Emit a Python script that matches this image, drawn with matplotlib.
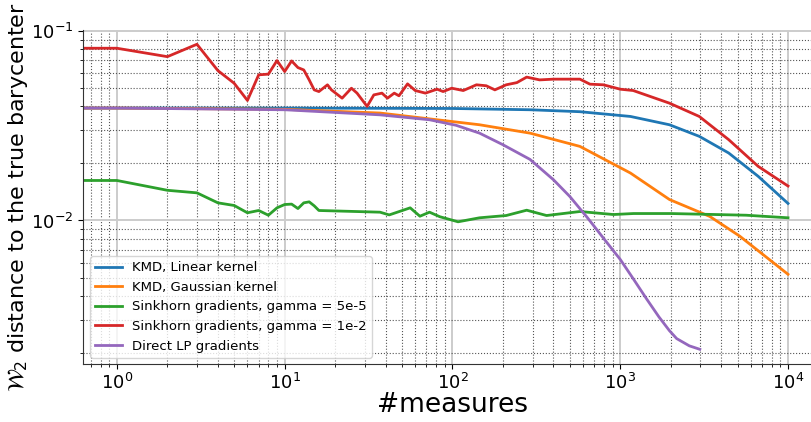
import matplotlib
matplotlib.use("Agg")
import matplotlib.pyplot as plt

# hodnoty (x = pocet mer, y = W2 vzdalenost)
lin_x = [0, 1, 10, 100, 290, 575, 1150, 1965, 2958, 4430, 6640, 9999]
lin_y = [0.0392, 0.0392, 0.0392, 0.0390, 0.0384, 0.0375, 0.0354, 0.0320, 0.0278, 0.0227, 0.0171, 0.0123]

gauss_x = [0, 1, 10, 37, 145, 290, 575, 1150, 1965, 3420, 5150, 9999]
gauss_y = [0.0392, 0.0392, 0.0386, 0.0369, 0.0320, 0.0289, 0.0246, 0.0178, 0.0129, 0.0105, 0.00827, 0.0052]

sink5_x = [0, 1, 2, 3, 4, 5, 6, 7, 8, 9, 10, 11, 12, 13, 14, 15, 16,
           37, 42, 56, 64, 73, 84, 108, 145, 209, 277, 364, 575, 910, 1200, 2000, 5630, 9999]
sink5_y = [0.01626, 0.01626, 0.01443, 0.01399, 0.01239, 0.01200, 0.01098, 0.01129, 0.01066,
           0.01166, 0.01214, 0.0122, 0.01156, 0.01239, 0.01254, 0.01195, 0.01129,
           0.01106, 0.0107, 0.01166, 0.01053, 0.01106, 0.01047, 0.00984, 0.01033, 0.01062,
           0.01133, 0.01062, 0.01115, 0.01075, 0.01088, 0.01088, 0.01066, 0.01033]

sink2_x = [0, 1, 2, 3, 4, 5, 6, 7, 8, 9, 10, 11, 12, 13, 14, 15, 16,
           18, 19, 22, 25, 27, 31, 34, 38, 41, 45, 48, 54, 60, 69, 81, 88, 99, 116,
           139, 159, 179, 209, 242, 277, 331, 400, 575, 660, 794, 1000, 1195, 1965,
           2958, 4430, 6640, 9999]
sink2_y = [0.0811, 0.0811, 0.0732, 0.0851, 0.0618, 0.0530, 0.0430, 0.0587, 0.0592, 0.0698,
           0.0611, 0.0695, 0.0641, 0.0623, 0.0552, 0.0489, 0.0479,
           0.0520, 0.0489, 0.0442, 0.0499, 0.0470, 0.0400, 0.0460, 0.0470, 0.0442, 0.0470,
           0.0455, 0.0526, 0.0485, 0.0470, 0.0493, 0.0479, 0.0499, 0.0485,
           0.0520, 0.0514, 0.0489, 0.0520, 0.0534, 0.0571, 0.0552, 0.0557, 0.0557, 0.0524,
           0.0520, 0.0493, 0.0485, 0.0416, 0.0354, 0.0267, 0.0193, 0.0152]

lp_x = [0, 1, 10, 37, 73, 105, 145, 200, 290, 400, 500, 640, 800, 1000, 1200, 1440, 1700,
        1965, 2170, 2580, 2980]
lp_y = [0.0392, 0.0392, 0.0384, 0.0361, 0.0340, 0.0318, 0.0289, 0.0251, 0.0210, 0.0164,
        0.0134, 0.0103, 0.0080, 0.00623, 0.0049, 0.00384, 0.0031, 0.00262, 0.00238,
        0.00218, 0.00209]

popisky = ["KMD, Linear kernel", "KMD, Gaussian kernel",
           "Sinkhorn gradients, gamma = 5e-5", "Sinkhorn gradients, gamma = 1e-2",
           "Direct LP gradients"]

fig = plt.figure(figsize=(8.12, 4.22), dpi=100)
ax = fig.add_axes([0.1026, 0.1363, 0.9092, 0.7934])

ax.plot(lin_x, lin_y, color="#1f77b4", lw=2, label=popisky[0])
ax.plot(gauss_x, gauss_y, color="#ff7f0e", lw=2, label=popisky[1])
ax.plot(sink5_x, sink5_y, color="#2ca02c", lw=2, label=popisky[2])
ax.plot(sink2_x, sink2_y, color="#d62728", lw=2, label=popisky[3])
ax.plot(lp_x, lp_y, color="#9467bd", lw=2, label=popisky[4])

ax.set_xscale("log")
ax.set_yscale("log")
ax.set_xlim(10 ** -0.2, 10 ** 4.2)
ax.set_ylim(10 ** -2.76, 10 ** -0.993)

ax.grid(which="major", color="#cccccc", lw=1.4, ls="-")
ax.grid(which="minor", color="#555555", lw=0.8, ls=":")
ax.set_axisbelow(True)
ax.spines["top"].set_visible(False)
ax.spines["right"].set_visible(False)
ax.spines["left"].set_color("#333333")
ax.spines["bottom"].set_color("#333333")
ax.tick_params(labelsize=13)
ax.tick_params(axis="x", pad=2.5)

ax.set_xlabel("#measures", fontsize=19, labelpad=-1)
ax.set_ylabel(r"$\mathcal{W}_2$ distance to the true barycenter", fontsize=16, labelpad=1)
ax.legend(loc="lower left", fontsize=9.5)

fig.savefig("out.png", dpi=100)
